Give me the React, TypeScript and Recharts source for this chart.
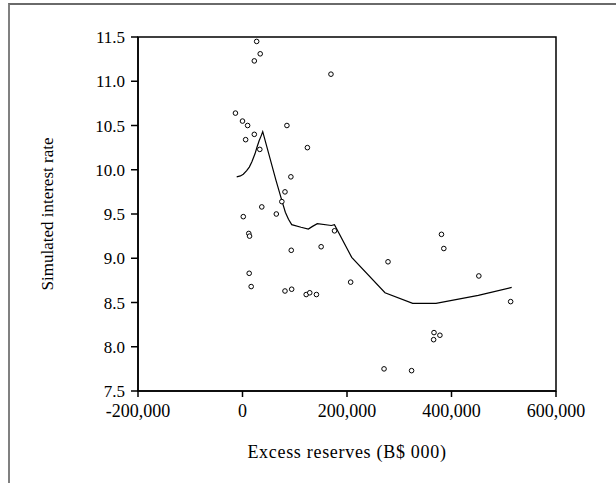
import {
    ScatterChart,
    Scatter,
    XAxis,
    YAxis,
    ReferenceArea,
    Label,
} from "recharts";

interface Point {
    x: number;
    y: number;
}

const X_TICKS = [-200000, 0, 200000, 400000, 600000];
const Y_TICKS = [7.5, 8.0, 8.5, 9.0, 9.5, 10.0, 10.5, 11.0, 11.5];

// observed (excess reserves, simulated rate)
const OBSERVED: Point[] = [
    { x: 27100, y: 11.45 },
    { x: 33900, y: 11.31 },
    { x: 22600, y: 11.23 },
    { x: 169300, y: 11.08 },
    { x: -13500, y: 10.64 },
    { x: 0, y: 10.55 },
    { x: 9800, y: 10.5 },
    { x: 85000, y: 10.5 },
    { x: 22600, y: 10.4 },
    { x: 6000, y: 10.34 },
    { x: 33100, y: 10.23 },
    { x: 124200, y: 10.25 },
    { x: 92600, y: 9.92 },
    { x: 81300, y: 9.75 },
    { x: 75300, y: 9.64 },
    { x: 36900, y: 9.58 },
    { x: 64700, y: 9.5 },
    { x: 1500, y: 9.47 },
    { x: 12000, y: 9.28 },
    { x: 13500, y: 9.25 },
    { x: 176100, y: 9.31 },
    { x: 150500, y: 9.13 },
    { x: 93300, y: 9.09 },
    { x: 12800, y: 8.83 },
    { x: 16600, y: 8.68 },
    { x: 81300, y: 8.63 },
    { x: 94100, y: 8.65 },
    { x: 121900, y: 8.59 },
    { x: 128700, y: 8.61 },
    { x: 141500, y: 8.59 },
    { x: 207000, y: 8.73 },
    { x: 278500, y: 8.96 },
    { x: 380800, y: 9.27 },
    { x: 385300, y: 9.11 },
    { x: 452300, y: 8.8 },
    { x: 513200, y: 8.51 },
    { x: 366500, y: 8.16 },
    { x: 365800, y: 8.08 },
    { x: 377800, y: 8.13 },
    { x: 270900, y: 7.75 },
    { x: 323600, y: 7.73 },
];

// smoothed fit line
const FIT: Point[] = [
    { x: -11100, y: 9.92 },
    { x: -4000, y: 9.93 },
    { x: 1500, y: 9.95 },
    { x: 8000, y: 9.99 },
    { x: 13000, y: 10.03 },
    { x: 18000, y: 10.09 },
    { x: 23900, y: 10.18 },
    { x: 28000, y: 10.26 },
    { x: 32000, y: 10.33 },
    { x: 35500, y: 10.38 },
    { x: 38700, y: 10.43 },
    { x: 64100, y: 9.88 },
    { x: 76900, y: 9.62 },
    { x: 82000, y: 9.52 },
    { x: 88000, y: 9.44 },
    { x: 94200, y: 9.38 },
    { x: 112000, y: 9.35 },
    { x: 126000, y: 9.33 },
    { x: 134000, y: 9.36 },
    { x: 143200, y: 9.39 },
    { x: 170000, y: 9.37 },
    { x: 176000, y: 9.38 },
    { x: 209000, y: 9.01 },
    { x: 272700, y: 8.61 },
    { x: 325700, y: 8.49 },
    { x: 370300, y: 8.49 },
    { x: 451300, y: 8.58 },
    { x: 515200, y: 8.67 },
];

const FONT = "'Liberation Serif', 'Times New Roman', serif";
const textStyle = { fill: "#000", fontSize: 17, fontFamily: FONT };

const fmtX = (v: number) => v.toLocaleString("en-US");
const fmtY = (v: number) => v.toFixed(1);

function XTick(props: any) {
    const { x, y, payload } = props;
    return (
        <text x={x} y={y + 18} textAnchor="middle" style={{ ...textStyle, fontSize: 18 }}>
            {fmtX(payload.value)}
        </text>
    );
}

function YTick(props: any) {
    const { x, y, payload } = props;
    return (
        <text x={x - 4} y={y + 6} textAnchor="end" style={textStyle}>
            {fmtY(payload.value)}
        </text>
    );
}

export default function App() {
    return (
        <div style={{ position: "absolute", left: 0, top: 0, width: 616, height: 483, background: "#fff" }}>
            <div
                style={{
                    position: "absolute",
                    left: 8,
                    top: 3,
                    width: 608,
                    height: 480,
                    borderLeft: "2px solid #808080",
                    borderTop: "2px solid #6a6a6a",
                    boxSizing: "border-box",
                }}
            />
            <div style={{ position: "absolute", left: 0, top: 0 }}>
                <ScatterChart width={616} height={483} margin={{ top: 37, right: 60, bottom: 0, left: 0 }}>
                    <XAxis
                        type="number"
                        dataKey="x"
                        domain={[-200000, 600000]}
                        ticks={X_TICKS}
                        tick={<XTick />}
                        tickSize={6}
                        height={92}
                        stroke="#000"
                        strokeWidth={1.5}
                        allowDataOverflow
                    >
                        <Label
                            content={() => (
                                <text
                                    x={347}
                                    y={458}
                                    textAnchor="middle"
                                    style={{ ...textStyle, fontSize: 18, letterSpacing: 0.7 }}
                                >
                                    Excess reserves (B$ 000)
                                </text>
                            )}
                        />
                    </XAxis>
                    <YAxis
                        type="number"
                        dataKey="y"
                        domain={[7.5, 11.5]}
                        ticks={Y_TICKS}
                        tick={<YTick />}
                        tickSize={7}
                        width={138}
                        stroke="#000"
                        strokeWidth={1.5}
                        allowDataOverflow
                    >
                        <Label
                            content={() => (
                                <text
                                    x={47}
                                    y={214}
                                    transform="rotate(-90 47 214)"
                                    textAnchor="middle"
                                    dominantBaseline="central"
                                    style={textStyle}
                                >
                                    Simulated interest rate
                                </text>
                            )}
                        />
                    </YAxis>
                    <ReferenceArea
                        x1={-200000}
                        x2={600000}
                        y1={7.5}
                        y2={11.5}
                        fill="none"
                        stroke="#000"
                        strokeWidth={1.5}
                        fillOpacity={0}
                    />
                    <Scatter
                        data={FIT}
                        isAnimationActive={false}
                        line={{ stroke: "#000", strokeWidth: 1.2 }}
                        lineJointType="linear"
                        shape={() => <g />}
                    />
                    <Scatter
                        data={OBSERVED}
                        isAnimationActive={false}
                        shape={(p: any) => (
                            <circle cx={p.cx} cy={p.cy} r={2.3} fill="#fff" stroke="#000" strokeWidth={1} />
                        )}
                    />
                </ScatterChart>
            </div>
        </div>
    );
}
